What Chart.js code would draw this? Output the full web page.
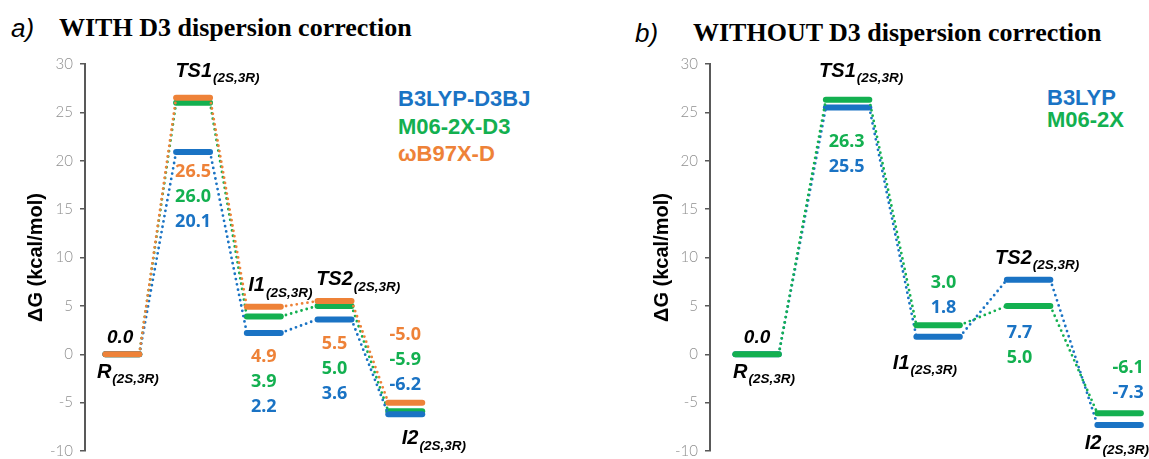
<!DOCTYPE html>
<html>
<head>
<meta charset="utf-8">
<script src="https://cdn.jsdelivr.net/npm/chart.js@4.4.1/dist/chart.umd.min.js"></script>
<style>
  body { margin: 0; background: #fff; width: 1149px; height: 459px; overflow: hidden; position: relative; font-family: 'Liberation Sans', Arial, sans-serif; }
  canvas { position: absolute; top: 0; }
  #chartA { left: 0; }
  #chartB { left: 575px; }
  .tag { position: absolute; font-style: italic; font-size: 26px; line-height: 26px; color: #000; }
  .ttl { position: absolute; font-family: 'Liberation Serif', 'Times New Roman', serif; font-weight: bold; font-size: 26px; line-height: 26px; color: #000; white-space: nowrap; }
  .leg { position: absolute; font-weight: bold; font-size: 22px; line-height: 22px; white-space: nowrap; }
</style>
</head>
<body>
<div class="tag" style="left:11px;top:15px">a)</div>
<div class="ttl" style="left:59px;top:15px">WITH D3 dispersion correction</div>
<div class="tag" style="left:635px;top:20px">b)</div>
<div class="ttl" style="left:693px;top:20px">WITHOUT D3 dispersion correction</div>

<div class="leg" style="left:398px;top:88px;color:#1a73c4">B3LYP-D3BJ</div>
<div class="leg" style="left:398px;top:116px;color:#13b050">M06-2X-D3</div>
<div class="leg" style="left:398px;top:143px;color:#ee8238">ωB97X-D</div>
<div class="leg" style="left:1047px;top:87px;color:#1a73c4">B3LYP</div>
<div class="leg" style="left:1047px;top:109px;color:#13b050">M06-2X</div>

<canvas id="chartA" width="575" height="467"></canvas>
<canvas id="chartB" width="574" height="467"></canvas>

<script>
// states along the reaction path
const states = ['R', 'TS1', 'I1', 'TS2', 'I2'];
const stateSub = '(2S,3R)';

// a) with D3 — levels as drawn
const b3lypD3 = [0.0, 20.9, 2.2, 3.6, -6.2];
const m062xD3 = [0.0, 26.0, 3.9, 5.0, -5.9];
const wb97xd = [0.0, 26.5, 4.9, 5.5, -5.0];
// printed numbers (TS1 of B3LYP-D3BJ is printed 20.1)
const b3lypD3Printed = [0.0, 20.1, 2.2, 3.6, -6.2];

// b) without D3
const b3lyp = [0.0, 25.5, 1.8, 7.7, -7.3];
const m062x = [0.0, 26.3, 3.0, 5.0, -6.1];

const yMin = -10, yMax = 30, yStep = 5;

const BLUE = '#1a73c4', GREEN = '#13b050', ORANGE = '#ee8238';
const HW = 0.24; // half width of a level, in state units

function levelPoints(vals) {
  const pts = [];
  vals.forEach((v, i) => { pts.push({ x: i - HW, y: v }, { x: i + HW, y: v }); });
  return pts;
}

function series(label, vals, color) {
  return {
    label, data: levelPoints(vals), borderColor: color, backgroundColor: color,
    pointRadius: 0, tension: 0, clip: false, borderCapStyle: 'round', borderWidth: 6,
    segment: {
      borderWidth: c => (c.p0DataIndex % 2 ? 2.8 : 6),
      borderDash: c => (c.p0DataIndex % 2 ? [0, 5.4] : undefined)
    }
  };
}

function fmt(v) { return v.toFixed(1); }

// text on the diagram, placed through the scales
function labelPlugin(cfg) {
  return {
    id: 'levelLabels',
    afterDatasetsDraw(chart) {
      const { ctx, scales: { x, y } } = chart;
      ctx.save();
      ctx.textBaseline = 'middle';
      cfg.names.forEach(n => {
        const px = x.getPixelForValue(n.x), py = y.getPixelForValue(n.y);
        ctx.fillStyle = '#000';
        ctx.textAlign = 'left';
        ctx.font = 'italic bold 20px "Liberation Sans", Arial, sans-serif';
        ctx.fillText(states[n.s], px, py);
        const w = ctx.measureText(states[n.s]).width;
        ctx.font = 'italic bold 13.5px "Liberation Sans", Arial, sans-serif';
        ctx.fillText(stateSub, px + w + 1, py + 7.5);
      });
      ctx.font = 'italic bold 19px "Liberation Sans", Arial, sans-serif';
      ctx.textAlign = 'center';
      ctx.fillStyle = '#000';
      ctx.fillText(fmt(0), x.getPixelForValue(cfg.zero.x), y.getPixelForValue(cfg.zero.y));
      ctx.font = 'bold 18px "Noto Sans", sans-serif';
      cfg.cols.forEach(c => {
        const px = x.getPixelForValue(c.x), py = y.getPixelForValue(c.y);
        c.rows.forEach((r, k) => {
          ctx.fillStyle = r.color;
          ctx.fillText(fmt(r.vals[c.s]), px, py + k * 25);
        });
      });
      ctx.restore();
    }
  };
}

function makeChart(id, datasets, xMin, xMax, axisWidth, titlePad, labels) {
  return new Chart(document.getElementById(id), {
    type: 'line',
    data: { datasets },
    options: {
      responsive: false, animation: false, events: [],
      layout: { autoPadding: false, padding: { top: 64, bottom: 8, left: 0, right: 0 } },
      plugins: { legend: { display: false }, tooltip: { enabled: false } },
      scales: {
        x: { type: 'linear', min: xMin, max: xMax, display: false },
        y: {
          min: yMin, max: yMax,
          ticks: { stepSize: yStep, color: '#8f8f8f', padding: 7, font: { family: 'Lato', size: 15, weight: 300 } },
          grid: { drawOnChartArea: false, drawTicks: true, tickLength: 5, color: '#595959', lineWidth: 1.5 },
          border: { display: true, color: '#595959', width: 2 },
          title: { display: true, text: 'ΔG (kcal/mol)', color: '#000', padding: { top: titlePad, bottom: 0 },
                   font: { family: 'Liberation Sans', size: 20, weight: 'bold', lineHeight: 1.2 } },
          afterFit(scale) { scale.width = axisWidth; }
        }
      }
    },
    plugins: [labelPlugin(labels)]
  });
}

makeChart('chartA',
  [series('ωB97X-D', wb97xd, ORANGE), series('B3LYP-D3BJ', b3lypD3, BLUE), series('M06-2X-D3', m062xD3, GREEN)],
  -0.528, 6.4, 85, 24,
  {
    names: [
      { s: 0, x: -0.36, y: -1.86 }, { s: 1, x: 0.75, y: 29.25 }, { s: 2, x: 1.78, y: 7.1 },
      { s: 3, x: 2.74, y: 7.7 }, { s: 4, x: 3.95, y: -8.7 }
    ],
    zero: { x: -0.03, y: 1.75 },
    cols: [1, 2, 3, 4].map(s => ({
      s, x: s, y: [0, 18.9, -0.26, 1.03, 1.96][s],
      rows: [{ vals: wb97xd, color: ORANGE }, { vals: m062xD3, color: GREEN }, { vals: b3lypD3Printed, color: BLUE }]
    }))
  });

makeChart('chartB',
  [series('M06-2X', m062x, GREEN), series('B3LYP', b3lyp, BLUE)],
  -0.52, 4.33, 135, 75,
  {
    names: [
      { s: 0, x: -0.265, y: -1.86 }, { s: 1, x: 0.685, y: 29.25 }, { s: 2, x: 1.5, y: -0.93 },
      { s: 3, x: 2.63, y: 9.92 }, { s: 4, x: 3.62, y: -9.2 }
    ],
    zero: { x: 0, y: 1.75 },
    cols: [
      { s: 1, x: 0.99, y: 22.0, rows: [{ vals: m062x, color: GREEN }, { vals: b3lyp, color: BLUE }] },
      { s: 2, x: 2.06, y: 7.34, rows: [{ vals: m062x, color: GREEN }, { vals: b3lyp, color: BLUE }] },
      { s: 3, x: 2.9, y: 2.17, rows: [{ vals: b3lyp, color: BLUE }, { vals: m062x, color: GREEN }] },
      { s: 4, x: 4.1, y: -1.45, rows: [{ vals: m062x, color: GREEN }, { vals: b3lyp, color: BLUE }] }
    ]
  });
</script>
</body>
</html>
